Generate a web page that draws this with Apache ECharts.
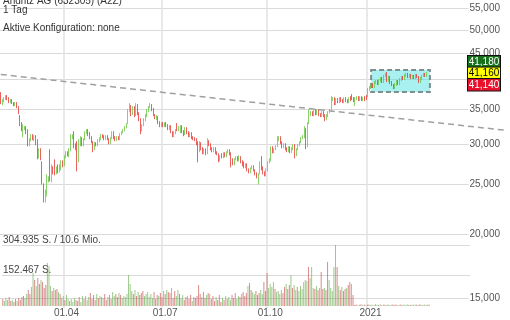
<!DOCTYPE html>
<html><head><meta charset="utf-8">
<script src="https://cdn.jsdelivr.net/npm/echarts@6.0.0/dist/echarts.min.js"></script>
<style>html,body{margin:0;padding:0;background:#fff}#c{width:510px;height:320px}</style>
</head><body><div id="c"></div>
<script>
// ---- data ----
const titleLines = ['Andritz AG (632305) (A2Z)', '1 Tag', 'Aktive Konfiguration: none'];
const startDate = [2020, 1, 5]; // 5 Feb 2020
const holidays = ['2020-04-10','2020-04-13','2020-05-01','2020-12-24','2020-12-25','2020-12-31','2021-01-01'];
const categoryCount = 319;
const volumeCategoryCount = 294;
const tickDates = ['2020-04-01','2020-07-01','2020-10-01','2021-01-04'];
const tickLabels = ['01.04','01.07','01.10','2021'];
const priceTicks = [15,20,25,30,35,40,45,50,55];
const priceLabelValues = [15,20,25,30,35,45,50,55,41.16];
const quoteLabels = ['41,180','41,160','41,140'];
const volumeTicks = [152467, 304935];
const volumeTickLabels = ['152.467 S.', '304.935 S. / 10.6 Mio.'];
const trendLine = [[0, 40.95], [318, 31.86]];
const boxRange = [233, 270, 37.83, 41.79];

// [open, close, low, high]
const candles = [
[37.66,36.17,35.85,37.83],[35.85,36.50,35.68,36.66],[36.33,36.82,36.17,36.99],[36.66,37.15,36.50,37.32],[37.15,36.66,36.50,37.32],
[36.82,36.17,36.00,36.99],[36.17,36.50,36.00,36.66],[36.50,36.00,35.85,36.66],[36.00,35.68,35.52,36.17],[35.68,36.00,35.52,36.17],
[36.00,35.36,35.20,36.17],[35.36,34.42,34.27,35.52],[33.96,32.61,32.47,34.11],[32.76,31.89,31.74,33.06],[31.04,32.47,30.90,32.76],
[32.03,32.32,31.89,32.47],[32.32,31.46,31.32,32.47],[31.74,29.80,29.67,32.03],[29.80,30.62,29.67,30.76],[30.49,31.18,30.35,31.32],
[31.18,30.62,30.49,31.32],[30.49,31.04,30.35,31.18],[31.04,29.94,29.80,31.18],[29.94,28.24,27.98,30.62],[28.24,29.27,28.11,29.40],
[29.27,27.98,27.86,29.40],[27.61,25.23,25.00,27.73],[25.00,23.36,23.05,25.11],[23.36,24.12,23.05,24.44],[23.90,25.57,23.68,26.15],
[25.34,25.80,25.23,25.92],[27.36,25.57,25.34,29.27],[25.57,26.99,25.23,27.36],[26.99,26.27,26.15,27.11],[27.48,26.51,26.04,27.98],
[26.27,26.99,26.15,27.11],[27.24,26.39,26.27,27.36],[26.51,27.24,26.39,27.36],[26.75,27.73,26.63,27.86],[27.73,27.11,26.99,27.86],
[27.24,28.37,27.11,28.49],[28.24,28.88,28.11,29.01],[28.88,28.49,28.37,29.01],[28.37,29.27,28.24,29.40],[29.27,30.90,29.01,31.32],
[30.76,31.18,30.62,31.32],[31.32,29.54,29.40,31.74],[29.94,29.27,29.14,30.07],[29.94,26.99,26.51,30.35],[27.73,29.94,27.61,30.62],
[29.80,30.90,29.67,31.04],[30.76,29.80,29.67,30.90],[29.80,30.62,29.67,30.76],[30.62,31.60,30.49,31.74],[31.46,31.89,31.32,32.03],
[31.89,31.18,31.04,32.03],[31.46,30.76,30.62,31.60],[30.90,30.21,30.07,31.04],[30.21,29.27,28.88,30.35],[29.27,30.07,29.14,30.21],
[30.07,29.80,29.67,30.21],[29.80,30.49,29.67,30.62],[30.35,30.76,30.21,30.90],[30.62,31.18,30.49,31.32],[31.18,30.90,30.76,31.32],
[31.04,30.62,30.49,31.18],[30.62,31.04,30.49,31.18],[31.04,30.62,30.49,31.18],[30.62,30.07,29.94,30.76],[30.07,30.76,29.94,30.90],
[30.76,31.60,30.62,31.74],[31.60,30.76,30.62,31.74],[30.90,30.49,30.35,31.04],[30.49,30.90,30.35,31.04],[30.90,30.62,30.49,31.04],
[30.62,31.32,30.49,31.46],[31.32,31.60,31.18,31.74],[31.60,31.89,31.46,32.03],[31.89,32.32,31.74,32.47],[32.32,32.76,32.17,32.91],
[32.91,34.73,32.76,35.05],[34.73,35.68,34.57,36.00],[35.52,34.11,33.96,35.68],[34.27,35.36,34.11,35.52],[35.36,33.96,33.81,35.52],
[34.11,35.68,33.96,36.00],[35.68,34.27,34.11,35.85],[34.42,33.35,33.20,34.57],[33.50,31.74,31.32,33.65],[31.89,32.61,31.74,32.76],
[32.61,33.50,32.47,33.65],[33.35,34.11,33.20,34.27],[33.96,34.89,33.81,35.05],[34.73,35.36,34.57,35.52],[35.36,35.68,35.20,36.00],
[35.68,34.89,34.73,35.85],[35.05,34.11,33.96,35.20],[34.11,33.65,33.50,34.27],[33.50,33.96,33.35,34.11],[33.81,32.91,32.76,33.96],
[33.06,32.47,32.32,33.20],[32.47,32.91,32.32,33.06],[32.91,32.47,32.32,33.06],[32.47,32.91,32.32,33.06],[32.91,32.47,32.32,33.06],
[32.61,32.03,31.89,32.76],[32.03,32.47,31.89,32.61],[32.47,31.60,31.46,32.61],[31.60,31.04,30.90,31.74],[31.04,31.60,30.90,31.74],
[31.46,31.89,31.32,32.03],[32.47,31.89,31.74,32.91],[31.89,32.32,31.74,32.47],[31.60,32.47,31.46,32.61],[32.47,31.60,31.46,32.61],
[31.74,31.18,31.04,31.89],[31.32,32.17,31.18,32.32],[32.17,31.46,31.32,32.32],[31.60,31.04,30.90,31.74],[31.04,31.46,30.90,31.60],
[31.46,30.76,30.62,31.60],[30.90,30.62,30.49,31.04],[30.76,30.49,30.35,30.90],[30.62,29.94,29.80,30.76],[30.21,27.98,27.61,30.35],
[29.01,30.21,28.88,30.35],[30.07,29.27,29.14,30.21],[29.40,28.75,28.62,29.54],[28.75,29.27,28.62,29.40],[29.27,28.62,28.49,29.40],
[28.75,30.21,28.62,30.76],[30.35,29.80,29.67,30.49],[29.94,29.27,29.14,30.07],[29.40,29.01,28.88,29.54],[29.01,29.40,28.88,29.54],
[29.40,28.75,28.62,29.54],[28.88,28.62,28.49,29.01],[28.62,27.86,27.61,28.75],[27.86,28.37,27.73,28.49],[28.62,28.24,28.11,28.75],
[28.24,28.75,28.11,28.88],[28.75,28.37,28.24,28.88],[28.37,28.88,28.24,29.01],[28.88,29.14,28.75,29.27],[29.14,28.62,28.49,29.27],
[28.75,27.61,26.99,28.88],[27.98,27.36,27.24,28.11],[27.36,27.98,27.24,28.11],[27.98,28.24,27.86,28.37],[28.24,27.86,27.73,28.37],
[27.86,28.37,27.73,28.49],[28.24,27.61,27.48,28.37],[27.73,27.24,27.11,27.86],[27.61,26.99,26.87,27.73],[26.99,27.36,26.87,27.48],
[27.36,26.63,26.51,27.48],[26.75,26.39,26.27,26.87],[26.39,26.87,26.27,26.99],[26.87,27.11,26.75,27.24],[27.11,26.63,26.51,27.24],
[26.63,26.15,26.04,26.75],[26.27,25.80,25.69,26.39],[25.34,26.15,25.00,26.27],[26.27,27.48,26.15,27.73],[28.11,26.75,26.63,28.37],
[26.99,26.27,26.15,27.11],[26.39,26.04,25.92,26.51],[26.04,26.75,25.92,26.87],[26.63,27.61,26.51,27.73],[27.61,27.98,27.48,28.11],
[27.86,29.54,27.73,29.67],[29.54,28.88,28.75,29.67],[28.88,29.27,28.75,29.40],[29.27,29.67,29.14,29.80],[29.67,30.62,29.54,31.04],
[30.49,30.90,30.35,31.04],[30.90,30.07,29.94,31.04],[30.21,29.54,29.40,30.35],[29.54,29.94,29.40,30.07],[29.94,29.27,29.14,30.07],
[29.40,29.01,28.88,29.54],[29.01,29.54,28.88,29.67],[29.54,28.88,28.75,29.67],[28.88,29.40,28.75,29.54],[29.27,29.80,29.14,29.94],
[29.80,28.49,28.11,29.94],[28.49,29.27,28.37,29.40],[29.27,29.80,29.14,29.94],[29.80,30.21,29.67,30.35],[30.21,30.76,30.07,30.90],
[30.76,31.04,30.62,31.18],[30.90,32.32,30.76,32.47],[32.03,29.54,29.27,32.17],[29.67,32.91,29.54,33.06],[32.91,34.57,32.76,35.05],
[34.11,34.57,33.96,34.73],[34.57,34.11,33.96,34.73],[34.11,34.73,33.96,34.89],[34.89,34.27,34.11,35.05],[34.27,34.89,34.11,35.05],
[34.89,34.11,33.96,35.05],[34.27,33.96,33.81,34.42],[33.96,34.57,33.81,34.73],[34.57,33.96,33.81,34.73],[34.11,33.50,33.20,34.27],
[33.50,34.11,33.35,34.27],[33.96,34.57,33.81,34.73],[34.57,34.89,34.42,35.05],[34.89,36.66,34.73,37.15],[36.50,36.82,36.33,36.99],
[36.82,35.85,35.68,36.99],[35.85,36.66,35.68,36.82],[36.66,36.17,36.00,36.82],[36.17,36.82,36.00,36.99],[36.82,36.33,36.17,36.99],
[36.50,36.17,36.00,36.66],[36.17,36.82,36.00,36.99],[36.82,36.33,36.17,36.99],[36.50,36.17,36.00,36.66],[36.17,36.82,36.00,36.99],
[36.99,36.50,36.33,37.15],[37.15,36.66,36.50,37.49],[36.82,36.33,36.17,36.99],[36.17,36.82,35.52,36.99],[36.66,36.99,36.50,37.15],
[36.99,36.50,36.33,37.15],[36.50,36.99,36.33,37.15],[36.99,36.50,36.33,37.15],[36.50,36.82,36.33,36.99],[36.99,36.50,36.33,37.15],
[37.15,36.66,36.50,37.32],[37.15,38.18,36.99,38.53],[38.18,38.70,38.00,38.87],[38.53,39.05,38.35,39.23],[39.23,38.70,38.53,39.40],
[38.70,39.58,38.53,39.76],[39.40,39.76,39.23,39.94],[39.76,39.23,39.05,39.94],[39.23,39.94,39.05,40.12],[39.76,40.30,39.58,40.49],
[40.30,39.58,39.40,40.49],[39.58,40.67,39.40,40.86],[40.67,41.04,40.49,41.23],[41.23,39.76,39.58,41.41],[39.76,40.49,39.58,40.67],
[40.49,39.40,39.23,40.67],[39.58,39.05,38.87,39.76],[39.05,38.53,38.35,39.23],[38.53,39.23,38.35,39.40],[39.05,39.76,38.87,39.94],
[39.76,39.23,39.05,39.94],[39.23,40.12,39.05,40.30],[39.94,40.49,39.76,40.67],[40.49,40.12,39.94,40.67],[40.12,40.86,39.94,41.04],
[40.67,41.04,40.49,41.23],[41.04,40.49,40.30,41.23],[40.49,40.86,40.30,41.04],[40.86,40.30,40.12,41.04],[40.30,40.67,40.12,40.86],
[40.67,40.30,40.12,40.86],[40.30,40.86,40.12,41.04],[40.86,40.49,40.30,41.04],[40.49,39.58,39.40,40.67],[39.58,40.30,39.40,40.49],
[40.12,40.67,39.94,40.86],[40.67,41.04,40.49,41.23],[41.04,40.67,40.49,41.23],[40.67,41.16,40.49,41.41]
];

const volumes = [
35000,25000,40000,30000,45000,25000,
30000,20000,35000,25000,40000,30000,45000,
50000,40000,60000,80000,60000,95000,165000,
130000,100000,140000,110000,130000,120000,90000,105000,215000,200000,
100000,75000,90000,80000,85000,70000,60000,
40000,50000,30000,55000,35000,
25000,35000,20000,40000,30000,25000,45000,20000,
50000,35000,50000,30000,
45000,65000,35000,55000,30000,60000,40000,50000,45000,
40000,60000,30000,45000,55000,35000,
70000,50000,60000,45000,65000,55000,
40000,50000,45000,60000,155000,110000,75000,
60000,80000,50000,70000,55000,65000,75000,50000,60000,70000,
45000,60000,40000,70000,35000,55000,50000,65000,45000,
75000,60000,80000,70000,
65000,90000,40000,75000,50000,80000,60000,
40000,55000,30000,45000,50000,35000,55000,25000,45000,40000,50000,
105000,60000,45000,70000,40000,55000,65000,60000,
35000,50000,25000,45000,30000,55000,20000,40000,30000,50000,35000,
45000,30000,55000,40000,65000,35000,50000,
45000,60000,70000,50000,65000,100000,115000,80000,
70000,60000,75000,55000,65000,80000,60000,120000,75000,165000,90000,
110000,95000,120000,85000,70000,75000,60000,80000,65000,
95000,110000,85000,105000,155000,
90000,105000,80000,95000,75000,100000,85000,
120000,130000,125000,195000,140000,195000,
90000,85000,100000,80000,90000,170000,85000,90000,80000,
220000,130000,90000,75000,195000,304935,195000,100000,
80000,95000,75000,85000,90000,105000,120000,110000,55000,
5000,8000,4000,6000,9000,5000,7000,4000,6000,8000,
5000,7000,4000,9000,6000,5000,8000,4000,7000,6000,
5000,9000,4000,6000,8000,5000,7000,4000,6000,8000,
5000,7000,4000,9000,6000,5000,8000,4000,7000,6000,
5000,9000,4000,6000,8000,5000,7000,6000
];

// ---- build trading-day categories ----
const dates = [];
{
  const d = new Date(Date.UTC(startDate[0], startDate[1], startDate[2]));
  while (dates.length < categoryCount) {
    const iso = d.toISOString().slice(0, 10);
    const wd = d.getUTCDay();
    if (wd !== 0 && wd !== 6 && holidays.indexOf(iso) < 0) dates.push(iso);
    d.setUTCDate(d.getUTCDate() + 1);
  }
}

const FONT = 'Liberation Sans, Arial, sans-serif';
const W = 510;
const volRight = W - volumeCategoryCount * W / categoryCount;
const pMin = 14.354, pMax = 57.20;
const isTick = (i, v) => tickDates.indexOf(v) >= 0;
const fmtPrice = v => v.toFixed(3).replace('.', ',');
const isUp = i => candles[i][1] >= candles[i][0];
const boxStyle = (bg, fg) => ({backgroundColor: bg, color: fg, borderColor: '#111', borderWidth: 1,
  width: 30, height: 11.5, lineHeight: 11.5, align: 'center', fontSize: 10, fontFamily: FONT, padding: [0, 1]});

const chart = echarts.init(document.getElementById('c'), null, {renderer: 'canvas'});
chart.setOption({
  animation: false,
  backgroundColor: '#fff',
  title: [
    {text: titleLines[0], left: 3, top: -3.5, padding: 0, textStyle: {fontSize: 10, fontWeight: 'normal', color: '#333', fontFamily: FONT}},
    {text: titleLines[1], left: 3, top: 5.3, padding: 0, textStyle: {fontSize: 10, fontWeight: 'normal', color: '#333', fontFamily: FONT}},
    {text: titleLines[2], left: 3, top: 23, padding: 0, textStyle: {fontSize: 10, fontWeight: 'normal', color: '#333', fontFamily: FONT}}
  ],
  grid: [
    {left: 0, right: 0, top: 0, height: 308},
    {left: 0, right: volRight, top: 245, height: 61}
  ],
  xAxis: [
    {type: 'category', gridIndex: 0, data: dates, boundaryGap: true,
      axisLine: {show: false}, axisTick: {show: false}, axisLabel: {show: false},
      splitLine: {show: true, interval: isTick, showMinLine: true, showMaxLine: false,
        lineStyle: {color: '#e2e2e2', width: 1.5}}},
    {type: 'category', gridIndex: 1, data: dates.slice(0, volumeCategoryCount), boundaryGap: true,
      axisLine: {show: false}, axisTick: {show: false}, splitLine: {show: false},
      axisLabel: {interval: isTick, formatter: v => tickLabels[tickDates.indexOf(v)], margin: 2,
        fontSize: 10, color: '#555', fontFamily: FONT}}
  ],
  yAxis: [
    {type: 'log', logBase: 10, gridIndex: 0, min: pMin, max: pMax,
      axisLine: {show: false}, axisTick: {show: false, customValues: priceTicks}, axisLabel: {show: false},
      splitLine: {show: true, lineStyle: {color: '#dadada', width: 1}}},
    {type: 'log', logBase: 10, gridIndex: 0, min: pMin, max: pMax, position: 'right',
      axisLine: {show: false}, axisTick: {show: false}, splitLine: {show: false},
      axisLabel: {inside: true, margin: 0, customValues: priceLabelValues,
        fontSize: 10, color: '#555', fontFamily: FONT,
        backgroundColor: '#fff', padding: [0, 7, 0, 1],
        formatter: v => Math.abs(v - 41.16) < 0.01
          ? '{g|' + quoteLabels[0] + '}\n{y|' + quoteLabels[1] + '}\n{r|' + quoteLabels[2] + '}'
          : fmtPrice(v),
        rich: {
          g: boxStyle('#17701a', '#fff'),
          y: boxStyle('#ffff00', '#000'),
          r: boxStyle('#e8102a', '#fff')
        }}},
    {type: 'value', gridIndex: 1, min: 0, max: volumeTicks[1],
      axisLine: {show: false}, axisTick: {show: false, customValues: volumeTicks},
      splitLine: {show: true, lineStyle: {color: '#dadada', width: 1}},
      axisLabel: {inside: true, margin: 1, customValues: volumeTicks, verticalAlign: 'bottom',
        formatter: v => volumeTickLabels[volumeTicks.indexOf(v)],
        fontSize: 10, color: '#444', fontFamily: FONT}}
  ],
  series: [
    {type: 'candlestick', xAxisIndex: 0, yAxisIndex: 0, data: candles, barWidth: 1.2,
      itemStyle: {color: 'rgba(130,210,90,0.75)', color0: 'rgba(235,85,85,0.75)',
        borderColor: '#6cc644', borderColor0: '#e53935', borderWidth: 0.8},
      markArea: {silent: true,
        itemStyle: {color: 'rgba(64,224,224,0.45)', borderColor: '#7f8f8f', borderWidth: 2, borderType: [5, 3]},
        data: [[{xAxis: boxRange[0], yAxis: boxRange[3]}, {xAxis: boxRange[1], yAxis: boxRange[2]}]]}},
    {type: 'line', xAxisIndex: 0, yAxisIndex: 0, data: trendLine, symbol: 'none', silent: true,
      lineStyle: {color: '#a0a0a0', width: 1.5, type: [6, 4]}, z: 3},
    {type: 'bar', xAxisIndex: 1, yAxisIndex: 2, data: volumes, barWidth: 1,
      itemStyle: {color: p => isUp(p.dataIndex) ? 'rgba(90,165,60,0.6)' : 'rgba(195,60,60,0.6)'}}
  ]
});
</script></body></html>
